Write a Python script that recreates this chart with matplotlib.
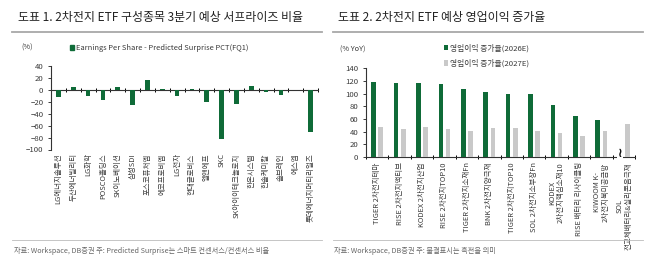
import matplotlib
matplotlib.use("Agg")
import matplotlib.pyplot as plt
import matplotlib.transforms as mtransforms
from matplotlib.lines import Line2D
from matplotlib.patches import Patch
import numpy as np

plt.rcParams['font.family'] = ['Noto Sans CJK KR', 'DejaVu Sans']
plt.rcParams['axes.unicode_minus'] = True

# ---------------- data ----------------
left_title = "도표 1. 2차전지 ETF 구성종목 3분기 예상 서프라이즈 비율"
left_unit = "(%)"
left_legend = "Earnings Per Share - Predicted Surprise PCT(FQ1)"
left_categories = ["LG에너지솔루션", "두산에너빌리티", "LG화학", "POSCO홀딩스", "SK이노베이션",
                   "삼성SDI", "포스코퓨처엠", "에코프로비엠", "LG전자", "현대글로비스",
                   "엘앤에프", "SKC", "SK아이이테크놀로지", "한온시스템", "한솔케미칼",
                   "솔브레인", "에스엠", "롯데에너지머티리얼즈"]
left_values = [-12, 5, -11, -17, 5, -26, 17, 1, -10, 1, -21, -82, -24, 7, -3.5, -8, 0, -70]
left_yticks = [40, 20, 0, -20, -40, -60, -80, -100]
left_note = "자료: Workspace, DB증권 주: Predicted Surprise는 스마트 컨센서스/컨센서스 비율"

right_title = "도표 2. 2차전지 ETF 예상 영업이익 증가율"
right_unit = "(% YoY)"
right_series_names = ["영업이익 증가율(2026E)", "영업이익 증가율(2027E)"]
right_categories = ["TIGER 2차전지테마", "RISE 2차전지액티브", "KODEX 2차전지산업",
                    "RISE 2차전지TOP10", "TIGER 2차전지소재Fn", "BNK 2차전지양극재",
                    "TIGER 2차전지TOP10", "SOL 2차전지소부장Fn", "KODEX\n2차전지핵심소재10",
                    "RISE 배터리 리사이클링", "KIWOOM K-\n2차전지북미공급망",
                    "SOL\n전고체배터리&실리콘음극재"]
right_2026 = [118, 117, 117, 115, 107, 103, 99, 99, 82, 64.5, 58, np.nan]
right_2027 = [48, 44.5, 48, 44, 41, 46, 46, 41, 38, 33.5, 41, 52]
right_turnaround = [False] * 11 + [True]
right_yticks = [0, 20, 40, 60, 80, 100, 120, 140]
right_note = "자료: Workspace, DB증권 주: 물결표시는 흑전을 의미"

# ---------------- style ----------------
GREEN = "#0f6b38"
GRAY = "#c9c9c9"
TXT = "#3a3a3a"
RULE = "#a8a8a8"
W, H = 670, 269

fig = plt.figure(figsize=(W / 100, H / 100), dpi=100)
fig.patch.set_facecolor("white")


def fx(px):
    return px / W


def fy(py):
    return 1 - py / H


def hline(x0, x1, y, lw=1.0, color=RULE):
    fig.add_artist(Line2D([fx(x0), fx(x1)], [fy(y), fy(y)], color=color, lw=lw,
                          transform=fig.transFigure))


# titles and rules
fig.text(fx(18), fy(17), left_title, fontsize=8.6, color="#222222", va="center", ha="left")
fig.text(fx(338), fy(17), right_title, fontsize=8.6, color="#222222", va="center", ha="left")
hline(12, 322, 31.5, lw=1.3)
hline(333, 643, 31.5, lw=1.3)
hline(12, 322, 239.5, lw=0.6, color="#bbbbbb")
hline(333, 643, 239.5, lw=0.6, color="#bbbbbb")
fig.text(fx(14), fy(251), left_note, fontsize=5.2, color="#666666", va="center", ha="left")
fig.text(fx(334), fy(251), right_note, fontsize=5.2, color="#666666", va="center", ha="left")
fig.text(fx(21), fy(48), left_unit, fontsize=5.3, color=TXT, va="center", ha="left")
fig.text(fx(340), fy(50), right_unit, fontsize=5.3, color=TXT, va="center", ha="left")


def style_axes(ax):
    for s in ["top", "right"]:
        ax.spines[s].set_visible(False)
    ax.spines["left"].set_color("#333333")
    ax.spines["left"].set_linewidth(0.8)
    ax.spines["bottom"].set_color("#333333")
    ax.spines["bottom"].set_linewidth(0.8)
    ax.spines["bottom"].set_position(("data", 0))
    ax.tick_params(axis="y", labelsize=5.6, colors=TXT, length=2.5, width=0.7, direction="out", pad=3)
    ax.tick_params(axis="x", which="major", length=3, width=0.7, direction="inout", labelbottom=False)
    ax.set_facecolor("none")


# ---------------- left chart ----------------
axL = fig.add_axes([fx(51), fy(149.5), fx(318 - 51), (149.5 - 66) / H])
xl = np.arange(len(left_categories))
axL.bar(xl, left_values, width=0.32, color=GREEN, zorder=3)
axL.set_xlim(-0.5, len(left_categories) - 0.5)
axL.set_ylim(-100, 40)
axL.set_yticks(left_yticks)
axL.set_xticks(np.arange(len(left_categories) + 1) - 0.5)
style_axes(axL)
tl = mtransforms.blended_transform_factory(axL.transData, axL.transAxes)
for i, lab in enumerate(left_categories):
    axL.text(i, -0.045, lab, rotation=90, ha="center", va="top", fontsize=5.4,
             color=TXT, transform=tl)
axL.legend(handles=[Patch(color=GREEN, label=left_legend)], loc="center left",
           bbox_to_anchor=(fx(66), fy(48)), bbox_transform=fig.transFigure,
           frameon=False, fontsize=5.4, handlelength=0.55, handleheight=0.75,
           handletextpad=0.25, borderpad=0, labelcolor=TXT)

# ---------------- right chart ----------------
axR = fig.add_axes([fx(366), fy(157), fx(635 - 366), (157 - 68.3) / H])
xr = np.arange(len(right_categories))
off = 0.16
axR.bar(xr - off, right_2026, width=0.21, color=GREEN, zorder=3, label=right_series_names[0])
axR.bar(xr + off, right_2027, width=0.21, color=GRAY, zorder=3, label=right_series_names[1])
axR.set_xlim(-0.5, len(right_categories) - 0.5)
axR.set_ylim(0, 140)
axR.set_yticks(right_yticks)
axR.set_xticks(np.arange(len(right_categories) + 1) - 0.5)
style_axes(axR)
tr = mtransforms.blended_transform_factory(axR.transData, axR.transAxes)
for i, lab in enumerate(right_categories):
    axR.text(i, -0.06, lab, rotation=90, ha="center", va="top", fontsize=5.4,
             color=TXT, transform=tr, multialignment="center", linespacing=1.1)
for i, flag in enumerate(right_turnaround):
    if flag:
        axR.text(i - off, 5, "≀", ha="center", va="center", fontsize=9, color="#111111",
                 family="DejaVu Sans", fontweight="bold", zorder=5,
                 bbox=dict(boxstyle="square,pad=0.05", fc="white", ec="none"))
axR.legend(loc="upper left", bbox_to_anchor=(fx(440), fy(40)), bbox_transform=fig.transFigure,
           frameon=False, fontsize=5.6, handlelength=0.55, handleheight=0.75,
           handletextpad=0.3, borderpad=0, labelspacing=0.9, labelcolor=TXT)

fig.savefig("out.png", dpi=100, facecolor="white")
